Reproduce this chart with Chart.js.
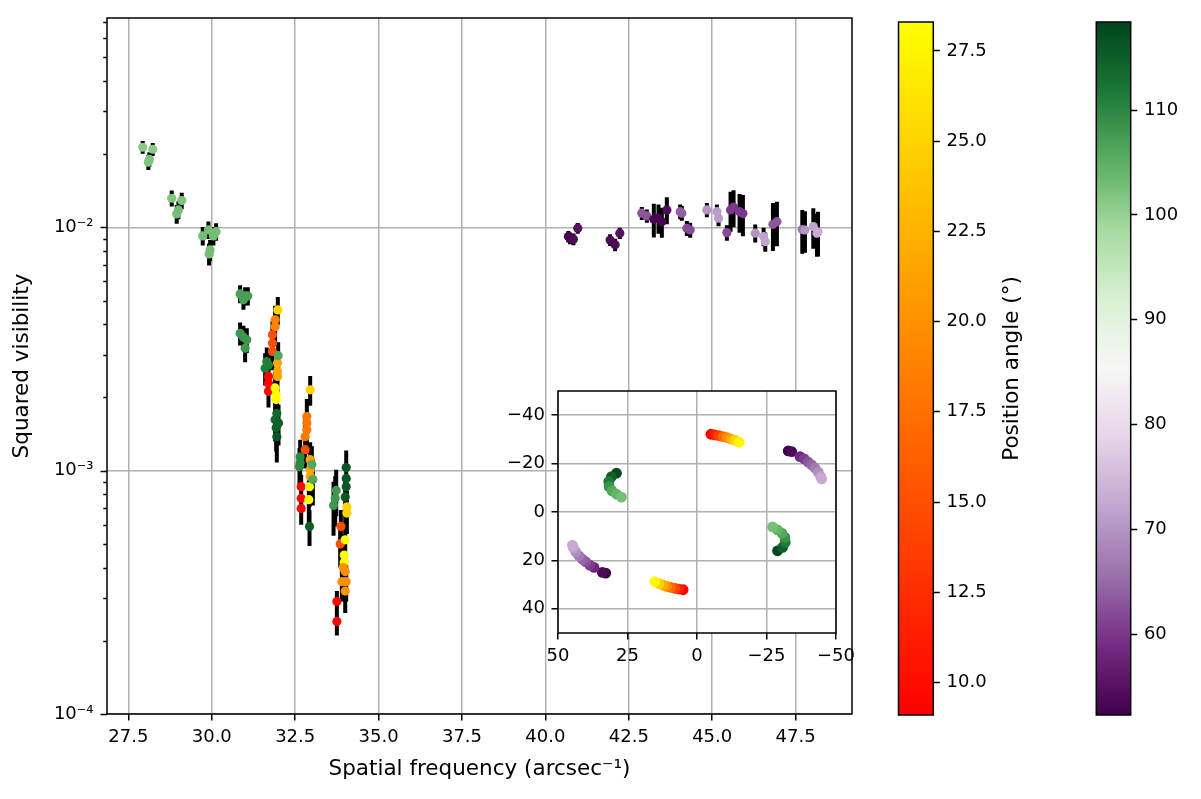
<!DOCTYPE html>
<html><head><meta charset="utf-8">
<script src="https://cdn.jsdelivr.net/npm/chart.js@4.4.1/dist/chart.umd.min.js"></script>
<style>
html,body{margin:0;padding:0;background:#fff;}
#wrap{position:relative;width:1201px;height:799px;overflow:hidden;background:#fff;}
canvas{position:absolute;display:block;}
</style></head><body>
<div id="wrap">
<canvas id="main" width="880" height="799" style="left:0;top:0;width:880px;height:799px"></canvas>
<canvas id="inset" width="380" height="310" style="left:490px;top:370px;width:380px;height:310px"></canvas>
<canvas id="cb1" width="150" height="799" style="left:890px;top:0;width:150px;height:799px"></canvas>
<canvas id="cb2" width="113" height="799" style="left:1088px;top:0;width:113px;height:799px"></canvas>
</div>
<script>
// ---------------- DATA ----------------
// Tick values / labels
const xTicks = [27.5, 30.0, 32.5, 35.0, 37.5, 40.0, 42.5, 45.0, 47.5];
const yTicks = [1e-4, 1e-3, 1e-2];
const yTickLabels = ['10\u207B\u2074', '10\u207B\u00B3', '10\u207B\u00B2'];
const insetXTicks = [50, 25, 0, -25, -50];
const insetYTicks = [-40, -20, 0, 20, 40];
const cbATicks = [10.0, 12.5, 15.0, 17.5, 20.0, 22.5, 25.0, 27.5];
const cbBTicks = [60, 70, 80, 90, 100, 110];
const cbARange = [9.1, 28.3];
const cbBRange = [52.3, 118.4];

// Points coloured with the "autumn" colour map (position angle 9-28 deg)
const freqA = [31.98,31.90,31.90,31.82,31.82,31.82,31.97,31.97,31.97,31.70,31.70,31.70,31.90,31.93,31.93,
               32.95,32.85,32.85,32.85,32.80,32.80,32.95,32.95,32.95,32.68,32.68,32.68,32.93,32.91,
               34.05,34.05,33.87,33.85,34.00,33.97,33.97,33.94,34.00,33.90,34.03,34.00,33.75,33.75];
const v2A   = [0.00458,0.00417,0.00391,0.00362,0.00334,0.00309,0.00277,0.00256,0.00244,0.00244,0.00229,0.00212,0.00219,0.00205,0.00196,
               0.00215,0.00167,0.00157,0.00147,0.00138,0.00122,0.00111,0.00101,0.00095,0.00086,0.00077,0.00070,0.00086,0.00076,
               0.00071,0.00067,0.00059,0.00050,0.00052,0.00045,0.00042,0.00040,0.000385,0.00035,0.00035,0.00032,0.00029,0.00024];
const errA  = [0.0006,0.0006,0.0006,0.0005,0.0005,0.0005,0.0004,0.0004,0.0004,0.0003,0.0003,0.0003,0.0004,0.0004,0.0004,
               0.0003,0.0003,0.0003,0.0003,0.0003,0.0002,0.0002,0.0002,0.0002,0.0001,0.0001,0.0001,0.00015,0.00015,
               0.00012,0.00012,0.0001,0.0001,0.0001,0.0001,0.0001,0.00006,0.00006,0.00006,0.00006,0.00006,0.00003,0.00003];
const paA   = [25,19,19,15,15,15,21.5,21.5,21.5,9.5,9.5,9.5,28,28,28,
               25,18,18,18,18,15,21.5,21.5,21.5,9.5,9.5,9.5,28,28,
               25,25,15,15,28,28,28,20,20,20,20,20,9.5,9.5];

// Points coloured with the "PRGn" colour map (position angle 52-118 deg)
const freqB = [27.93,28.23,28.13,28.10, 28.80,29.10,29.00,28.95, 29.73,29.90,30.13,30.05,29.95,29.92,
               30.85,31.00,31.08,30.95, 30.85,30.95,31.05,31.00,
               31.65,31.60,31.70,31.99,31.95,31.90,32.00,31.93,31.95,
               32.65,32.65,32.63,33.00,33.03,32.93,
               33.73,33.65,33.70,34.03,34.03,34.03,34.00,
               40.74,40.69,40.84,40.97, 41.94,42.09,42.23, 42.89,43.04, 43.25,43.39,43.49,43.64,
               44.04,44.09,44.24,44.34, 44.84,45.14,45.19, 45.55,45.64,45.82,45.92,45.44,
               46.29,46.54,46.59, 46.82,46.94, 47.70,47.78,48.03,48.14,48.17];
const v2B   = [0.02136,0.02096,0.01906,0.01853, 0.01318,0.01289,0.01180,0.01136, 0.00923,0.00977,0.00961,0.00923,0.00808,0.00778,
               0.00533,0.00523,0.00523,0.00504, 0.00367,0.00354,0.00345,0.00319,
               0.00281,0.00264,0.00272,0.00297,0.00172,0.00162,0.00157,0.00150,0.00138,
               0.00114,0.00108,0.00104,0.00106,0.00092,0.00059,
               0.00083,0.00072,0.00077,0.00103,0.00093,0.00086,0.00078,
               0.00903,0.00917,0.00894,0.00993, 0.00888,0.00848,0.00947, 0.01144,0.01115, 0.01080,0.01091,0.01056,0.01180,
               0.01161,0.01144,0.00992,0.00976, 0.01180,0.01161,0.01091, 0.01180,0.01211,0.01161,0.01140,0.00952,
               0.00947,0.00917,0.00874, 0.01030,0.01056, 0.00980,0.00976,0.01008,0.00947,0.00960];
const errB  = [0.0013,0.0013,0.0013,0.0013, 0.0010,0.0010,0.0010,0.0010, 0.0008,0.0008,0.0008,0.0008,0.0008,0.0008,
               0.00045,0.00045,0.00045,0.00045, 0.0004,0.0004,0.0004,0.0004,
               0.0004,0.0004,0.0004,0.0004,0.0003,0.0003,0.0003,0.0003,0.0003,
               0.0002,0.0002,0.0002,0.0002,0.0002,0.0001,
               0.00018,0.00018,0.00018,0.00018,0.00018,0.00018,0.00018,
               0.0005,0.0005,0.0005,0.0005, 0.0005,0.0005,0.0005, 0.0007,0.0007, 0.0017,0.0015,0.0015,0.0015,
               0.0008,0.0008,0.0007,0.0007, 0.0008,0.0008,0.0008, 0.0022,0.0021,0.0021,0.0022,0.0007,
               0.0008,0.0008,0.0008, 0.0023,0.0022, 0.0020,0.0019,0.0019,0.0019,0.0020];
const paB   = [101,101,102,102, 102,102,103,103, 103,103,103,103,103,103,
               107,107,107,107, 108,108,108,108,
               111,111,111,106,114,114,115,115,116,
               110,110,110,106,106,115,
               108,108,108,116,116,116,116,
               53,53,54,55, 54,54,55, 63,63, 53,53,53,54,
               64,64,62,62, 70,71,71, 60,60,60,60,62,
               70,72,72, 63,63, 66,70,72,73,73];

// uv coverage (inset) - one half of the plane; the other half is the point reflection
const uvUA  = [-4.99,-6.43,-7.87,-9.42,-10.86,-12.19,-13.63,-15.18];
const uvVA  = [-32.13,-31.84,-31.55,-31.14,-30.73,-30.19,-29.65,-28.83];
const uvPAA = [8.8,11.4,14.0,16.8,19.5,22.0,24.7,27.8];
const uvUB  = [28.97,30.77,31.74,31.63,30.56,28.97,27.17, -32.82,-34.05,-37.04,-38.59,-40.03,-41.25,-42.44,-43.63,-44.49,-44.85];
const uvVB  = [-16.03,-14.63,-12.57,-10.5,-8.73,-7.37,-6.13, -25.24,-24.95,-22.89,-21.94,-20.57,-19.46,-18.10,-16.45,-14.63,-13.68];
const uvPAB = [118,115,111.6,108.4,105.9,104.3,102.7, 52.4,53.8,58.3,60.4,62.8,64.7,66.9,69.3,71.8,73.0];

// ---------------- COLOUR MAPS ----------------
const PRGN = ['#40004b','#762a83','#9970ab','#c2a5cf','#e7d4e8','#f7f7f7','#d9f0d3','#a6dba0','#5aae61','#1b7837','#00441b'];
function hex2rgb(h){return [parseInt(h.slice(1,3),16),parseInt(h.slice(3,5),16),parseInt(h.slice(5,7),16)];}
function prgn(t){
  t=Math.max(0,Math.min(1,t)); const s=t*10; const i=Math.min(9,Math.floor(s)); const f=s-i;
  const a=hex2rgb(PRGN[i]), b=hex2rgb(PRGN[i+1]);
  return 'rgb('+a.map((c,k)=>Math.round(c+(b[k]-c)*f)).join(',')+')';
}
function autumn(t){t=Math.max(0,Math.min(1,t));return 'rgb(255,'+Math.round(255*t)+',0)';}
const colA = p => autumn((p-cbARange[0])/(cbARange[1]-cbARange[0]));
const colB = p => prgn((p-cbBRange[0])/(cbBRange[1]-cbBRange[0]));

// ---------------- COMMON ----------------
const FONT = "'DejaVu Sans', sans-serif";
Chart.defaults.font.family = FONT;
Chart.defaults.font.size = 18;
Chart.defaults.color = '#000';
const LABEL_SIZE = 21.5;
const GRID = '#b0b0b0';
const LW = 1.5;
const fixedTicks = arr => (scale => { scale.ticks = arr.map(v => ({value: v})); });

const framePlugin = {
  id: 'frame',
  afterDraw(chart){
    const {ctx, chartArea:a} = chart;
    ctx.save(); ctx.strokeStyle='#000'; ctx.lineWidth=LW;
    ctx.strokeRect(a.left, a.top, a.right-a.left, a.bottom-a.top);
    ctx.restore();
  }
};

// ---------------- MAIN CHART ----------------
const errorBars = {
  id: 'errorBars',
  beforeDatasetsDraw(chart){
    const {ctx, chartArea:a, scales:{x, y}} = chart;
    ctx.save();
    ctx.beginPath(); ctx.rect(a.left, a.top, a.right-a.left, a.bottom-a.top); ctx.clip();
    ctx.strokeStyle = '#000'; ctx.lineWidth = 4;
    ctx.beginPath();
    chart.data.datasets.forEach(ds => {
      if (!ds.errors) return;
      ds.data.forEach((p, i) => {
        const e = ds.errors[i];
        const px = x.getPixelForValue(p.x);
        ctx.moveTo(px, y.getPixelForValue(p.y + e));
        ctx.lineTo(px, y.getPixelForValue(Math.max(p.y - e, 1e-7)));
      });
    });
    ctx.stroke();
    ctx.restore();
  }
};
const logTicks = {
  id: 'logTicks',
  afterDraw(chart){
    const {ctx, chartArea:a, scales:{y}} = chart;
    ctx.save(); ctx.strokeStyle='#000'; ctx.lineWidth=LW; ctx.beginPath();
    for (let d = -4; d <= -2; d++) {
      for (let m = 1; m <= 9; m++) {
        const v = m * Math.pow(10, d);
        if (v < y.min * 0.999 || v > y.max) continue;
        const py = Math.round(y.getPixelForValue(v)) + 0.5;
        const len = m === 1 ? 6.5 : 3.7;
        ctx.moveTo(a.left, py); ctx.lineTo(a.left - len, py);
      }
    }
    ctx.stroke(); ctx.restore();
  }
};

new Chart(document.getElementById('main'), {
  type: 'scatter',
  data: { datasets: [
    { label: 'PRGn', data: freqB.map((f,i)=>({x:f, y:v2B[i]})), errors: errB,
      pointBackgroundColor: paB.map(colB), pointBorderWidth: 0, pointRadius: 4.6, pointHoverRadius: 4.6 },
    { label: 'autumn', data: freqA.map((f,i)=>({x:f, y:v2A[i]})), errors: errA,
      pointBackgroundColor: paA.map(colA), pointBorderWidth: 0, pointRadius: 4.6, pointHoverRadius: 4.6 }
  ]},
  options: {
    responsive: false, animation: false, devicePixelRatio: 1,
    layout: { padding: { left: 0, top: 18, right: 28, bottom: 0 } },
    plugins: { legend: {display:false}, tooltip: {enabled:false} },
    scales: {
      x: { type: 'linear', min: 26.86, max: 49.19,
        afterBuildTicks: fixedTicks(xTicks),
        afterFit: s => { s.height = 85; },
        border: { display: false },
        grid: { color: GRID, lineWidth: LW, tickColor: '#000', tickLength: 6.5, tickWidth: LW },
        ticks: { padding: 6, maxRotation: 0, autoSkip: false, callback: v => v.toFixed(1) },
        title: { display: true, text: 'Spatial frequency (arcsec\u207B\u00B9)', font: { size: LABEL_SIZE }, padding: { top: 0, bottom: 17 } }
      },
      y: { type: 'logarithmic', min: 1e-4, max: 0.07258,
        afterBuildTicks: fixedTicks(yTicks),
        afterFit: s => { s.width = 107; },
        border: { display: false },
        grid: { color: GRID, lineWidth: LW, drawTicks: true, tickLength: 6.5, tickColor: 'rgba(0,0,0,0)' },
        ticks: { padding: 7, autoSkip: false, callback: v => { const i = yTicks.findIndex(t => Math.abs(t - v) / t < 1e-6); return i >= 0 ? yTickLabels[i] : ''; } },
        title: { display: true, text: 'Squared visibility', font: { size: LABEL_SIZE }, padding: { top: 10, bottom: 0 } }
      }
    }
  },
  plugins: [errorBars, logTicks, framePlugin]
});

// ---------------- INSET (uv plane) ----------------
const whiteBg = {
  id: 'whiteBg',
  beforeDraw(chart){
    const {ctx, chartArea:a} = chart;
    ctx.save(); ctx.fillStyle = '#fff'; ctx.fillRect(a.left, a.top, a.right-a.left, a.bottom-a.top); ctx.restore();
  }
};
const minusFmt = v => v < 0 ? '\u2212' + Math.abs(v) : String(v);
new Chart(document.getElementById('inset'), {
  type: 'scatter',
  data: { datasets: [
    { data: uvUB.map((u,i)=>({x:u, y:uvVB[i]})).concat(uvUB.map((u,i)=>({x:-u, y:-uvVB[i]}))),
      pointBackgroundColor: uvPAB.map(colB).concat(uvPAB.map(colB)), pointBorderWidth: 0, pointRadius: 5.4, pointHoverRadius: 5.4 },
    { data: uvUA.map((u,i)=>({x:u, y:uvVA[i]})).concat(uvUA.map((u,i)=>({x:-u, y:-uvVA[i]}))),
      pointBackgroundColor: uvPAA.map(colA).concat(uvPAA.map(colA)), pointBorderWidth: 0, pointRadius: 5.4, pointHoverRadius: 5.4 }
  ]},
  options: {
    responsive: false, animation: false, devicePixelRatio: 1,
    layout: { padding: { left: 0, top: 21, right: 34, bottom: 0 } },
    plugins: { legend: {display:false}, tooltip: {enabled:false} },
    scales: {
      x: { type: 'linear', min: -50, max: 50, reverse: true,
        afterBuildTicks: fixedTicks(insetXTicks),
        afterFit: s => { s.height = 47; },
        border: { display: false },
        grid: { color: GRID, lineWidth: LW, tickColor: '#000', tickLength: 6.5, tickWidth: LW },
        ticks: { padding: 6, maxRotation: 0, autoSkip: false, callback: minusFmt }
      },
      y: { type: 'linear', min: -50, max: 50, reverse: true,
        afterBuildTicks: fixedTicks(insetYTicks),
        afterFit: s => { s.width = 68; },
        border: { display: false },
        grid: { color: GRID, lineWidth: LW, tickColor: '#000', tickLength: 6.5, tickWidth: LW },
        ticks: { padding: 6.5, autoSkip: false, callback: minusFmt }
      }
    }
  },
  plugins: [whiteBg, framePlugin]
});

// ---------------- COLOUR BARS ----------------
function colorbar(id, range, ticks, stops, fmt, padLeft, width, title){
  const grad = {
    id: 'grad',
    beforeDatasetsDraw(chart){
      const {ctx, chartArea:a} = chart;
      const g = ctx.createLinearGradient(0, a.bottom, 0, a.top);
      stops.forEach((c, i) => g.addColorStop(i / (stops.length - 1), c));
      ctx.save(); ctx.fillStyle = g; ctx.fillRect(a.left, a.top, a.right-a.left, a.bottom-a.top); ctx.restore();
    },
    afterDraw(chart){
      if (!title) return;
      const {ctx, chartArea:a} = chart;
      ctx.save(); ctx.font = LABEL_SIZE + 'px ' + FONT; ctx.fillStyle = '#000';
      ctx.textAlign = 'center'; ctx.textBaseline = 'middle';
      ctx.translate(title.x, (a.top + a.bottom) / 2); ctx.rotate(-Math.PI / 2);
      ctx.fillText(title.text, 0, 0); ctx.restore();
    }
  };
  new Chart(document.getElementById(id), {
    type: 'scatter',
    data: { datasets: [] },
    options: {
      responsive: false, animation: false, devicePixelRatio: 1,
      layout: { padding: { left: padLeft, top: 22, right: 0, bottom: 84 } },
      plugins: { legend: {display:false}, tooltip: {enabled:false} },
      scales: {
        x: { display: false, min: 0, max: 1 },
        y: { position: 'right', min: range[0], max: range[1],
          afterBuildTicks: fixedTicks(ticks),
          afterFit: s => { s.width = width; },
          border: { display: false },
          grid: { drawOnChartArea: false, tickColor: '#000', tickLength: 6.5, tickWidth: LW },
          ticks: { padding: 6.7, autoSkip: false, callback: fmt }
        }
      }
    },
    plugins: [grad, framePlugin]
  });
}
const autumnStops = [0, 0.25, 0.5, 0.75, 1].map(t => autumn(t));
colorbar('cb1', cbARange, cbATicks, autumnStops, v => v.toFixed(1), 8.5, 106.7, { x: 122, text: 'Position angle (\u00B0)' });
colorbar('cb2', cbBRange, cbBTicks, PRGN, v => String(v), 8.3, 70.3, null);
</script>
</body></html>
